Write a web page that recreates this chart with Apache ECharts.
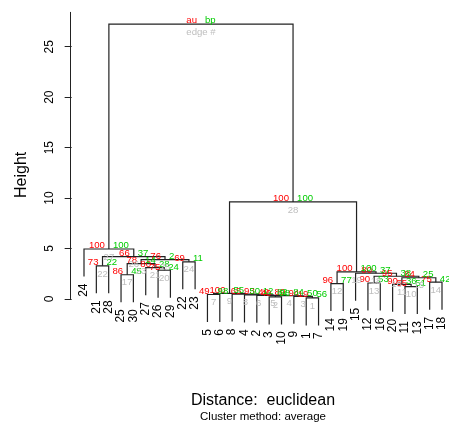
<!DOCTYPE html>
<html><head><meta charset="utf-8">
<script src="https://cdn.jsdelivr.net/npm/echarts@6/dist/echarts.min.js"></script>
<style>html,body{margin:0;padding:0;background:#fff}#c{width:449px;height:425px}</style>
</head><body><div id="c"></div>
<script>
// hclust-style merge table: negative = observation, positive = earlier merge (edge #)
const mergeA = [-1,-3,-9,2,-2,-4,-5,-8,7,-11,-20,-14,-12,-17,11,13,-25,-15,12,-26,-27,-21,17,-22,23,22,-24,9,27];
const mergeB = [-7,-10,1,3,4,5,-6,6,8,-13,10,-19,-16,-18,14,15,-30,16,18,-29,20,-28,21,-23,24,25,26,19,28];
const heights = [0.10,0.20,0.26,0.32,0.36,0.40,0.44,0.48,0.55,1.23,1.45,1.52,1.58,1.66,2.10,2.25,2.40,2.55,2.68,2.85,3.10,3.28,3.50,3.68,3.90,4.20,4.95,9.62,27.25];
const auValues = [19,40,94,89,49,93,49,65,100,55,90,96,90,75,84,95,86,80,100,75,80,73,78,69,76,66,100,100,null];
const bpValues = [56,98,50,84,82,12,98,50,55,51,36,77,53,42,25,38,45,37,100,24,28,22,14,11,2,37,100,100,null];
const obsLabels = ['1','2','3','4','5','6','7','8','9','10','11','12','13','14','15','16','17','18','19','20','21','22','23','24','25','26','27','28','29','30'];
const yTicks = [0,5,10,15,20,25];
const legendText = ['au','bp','edge #'];

const FONT = 'Liberation Sans, Arial, Helvetica, sans-serif';
const COL_AU = '#FF0000', COL_BP = '#00CD00', COL_EDGE = '#BEBEBE', COL_LINE = '#222222';
const nMerge = heights.length;
const root = nMerge;
const maxH = Math.max(...heights);
const hang = 0.1 * maxH;

// leaf order by traversal
const order = [];
(function walk(k){ if (k < 0) { order.push(-k); return; } walk(mergeA[k-1]); walk(mergeB[k-1]); })(root);
const posOf = {};
order.forEach((leaf, i) => posOf[leaf] = i + 1);
const nodeXc = {};
function nodeX(k){ if (k < 0) return posOf[-k]; if (nodeXc[k] != null) return nodeXc[k]; const v = (nodeX(mergeA[k-1]) + nodeX(mergeB[k-1])) / 2; nodeXc[k] = v; return v; }

const yMin = -3.84, yMax = 28.45;
const xMin = -0.16, xMax = 30.567;
const floatH = 0.01 * (yMax - yMin);

const nodeData = heights.map((h, i) => [nodeX(i+1), h, i]);
const leafData = order.map(leaf => {
  let ph = 0;
  for (let i = 0; i < nMerge; i++) if (mergeA[i] === -leaf || mergeB[i] === -leaf) ph = heights[i];
  return [posOf[leaf], ph - hang, leaf];
});

function childTop(c, ph){ return c < 0 ? ph - hang : heights[c-1]; }

const chart = echarts.init(document.getElementById('c'), null, {renderer:'canvas'});
chart.setOption({
  animation: false,
  grid: { left: 69.68, right: 0, top: 11.94, bottom: 87.3, containLabel: false },
  xAxis: { type: 'value', min: xMin, max: xMax, show: false },
  yAxis: {
    type: 'value', min: yMin, max: yMax,
    axisLine: { show: false }, splitLine: { show: false },
    axisTick: { show: true, customValues: yTicks, length: 7, lineStyle: { color: COL_LINE, width: 1 } },
    axisLabel: { customValues: yTicks, rotate: 90, margin: 14, fontSize: 12, color: '#000', fontFamily: FONT },
    name: 'Height', nameLocation: 'middle', nameRotate: 90, nameGap: 40,
    nameTextStyle: { fontSize: 16, color: '#000', fontFamily: FONT }
  },
  title: [
    { text: 'Distance:  euclidean', left: 263, top: 393, textAlign: 'center', padding: 0,
      textStyle: { fontSize: 16, fontWeight: 'normal', color: '#000', fontFamily: FONT } },
    { text: 'Cluster method: average', left: 263, top: 411, textAlign: 'center', padding: 0,
      textStyle: { fontSize: 11.5, fontWeight: 'normal', color: '#000', fontFamily: FONT } }
  ],
  series: [
    {
      type: 'custom', coordinateSystem: 'cartesian2d', data: [[xMin, 0]], z: 2, silent: true,
      renderItem: (p, api) => {
        const a = api.coord([xMin, 0]), b = api.coord([xMin, yMax]);
        return { type: 'line', shape: { x1: Math.round(a[0])+0.5, y1: a[1], x2: Math.round(a[0])+0.5, y2: b[1] }, style: { stroke: COL_LINE, lineWidth: 1 } };
      }
    },
    {
      type: 'custom', coordinateSystem: 'cartesian2d', data: nodeData, z: 2, silent: true,
      renderItem: (p, api) => {
        const i = api.value(2), h = api.value(1);
        const a = mergeA[i], b = mergeB[i];
        const xa = nodeX(a), xb = nodeX(b);
        const pts = [api.coord([xa, childTop(a, h)]), api.coord([xa, h]), api.coord([xb, h]), api.coord([xb, childTop(b, h)])];
        return { type: 'polyline', shape: { points: pts }, style: { stroke: COL_LINE, lineWidth: 1.2, fill: null } };
      }
    },
    {
      type: 'custom', coordinateSystem: 'cartesian2d', data: leafData, z: 3, silent: true,
      renderItem: (p, api) => {
        const c = api.coord([api.value(0), api.value(1)]);
        return { type: 'text', x: c[0], y: c[1] + 7, rotation: Math.PI/2,
          style: { text: obsLabels[api.value(2)-1], align: 'right', verticalAlign: 'middle', fontSize: 12, fontFamily: FONT, fill: '#000' } };
      }
    },
    {
      type: 'custom', coordinateSystem: 'cartesian2d', data: nodeData, z: 4, silent: true,
      renderItem: (p, api) => {
        const i = api.value(2);
        const c = api.coord([api.value(0), api.value(1) + floatH]);
        const t = i === root-1 ? legendText[0] : String(auValues[i]);
        return { type: 'text', x: c[0] - 4, y: c[1], style: { text: t, align: 'right', verticalAlign: 'middle', fontSize: 9.6, fontFamily: FONT, fill: COL_AU } };
      }
    },
    {
      type: 'custom', coordinateSystem: 'cartesian2d', data: nodeData, z: 5, silent: true,
      renderItem: (p, api) => {
        const i = api.value(2);
        const c = api.coord([api.value(0), api.value(1) + floatH]);
        const t = i === root-1 ? legendText[1] : String(bpValues[i]);
        return { type: 'text', x: c[0] + 4, y: c[1], style: { text: t, align: 'left', verticalAlign: 'middle', fontSize: 9.6, fontFamily: FONT, fill: COL_BP } };
      }
    },
    {
      type: 'custom', coordinateSystem: 'cartesian2d', data: nodeData, z: 6, silent: true,
      renderItem: (p, api) => {
        const i = api.value(2);
        const c = api.coord([api.value(0), api.value(1)]);
        const t = i === root-1 ? legendText[2] : String(i+1);
        return { type: 'text', x: c[0], y: c[1] + 3, style: { text: t, align: 'center', verticalAlign: 'top', fontSize: 9.6, fontFamily: FONT, fill: COL_EDGE } };
      }
    }
  ]
});
</script></body></html>
